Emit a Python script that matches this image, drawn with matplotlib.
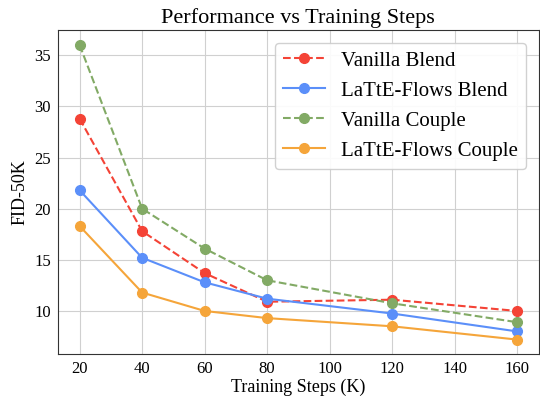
import matplotlib
matplotlib.use('Agg')
import matplotlib.pyplot as plt

steps = [20, 40, 60, 80, 120, 160]
vanilla_blend = [28.8, 17.8, 13.7, 10.9, 11.1, 10.0]
latte_blend = [21.8, 15.2, 12.8, 11.2, 9.75, 8.0]
vanilla_couple = [36.0, 20.0, 16.1, 13.0, 10.75, 8.9]
latte_couple = [18.3, 11.8, 10.0, 9.3, 8.5, 7.2]

plt.rcParams['font.family'] = ['Liberation Serif', 'DejaVu Serif']

fig = plt.figure(figsize=(5.4, 3.99), dpi=100)
ax = fig.add_axes([0.107, 0.112, 0.891, 0.812])

ax.plot(steps, vanilla_blend, '--o', color='#f44336', label='Vanilla Blend', markersize=7, linewidth=1.5)
ax.plot(steps, latte_blend, '-o', color='#5b8ff9', label='LaTtE-Flows Blend', markersize=7, linewidth=1.5)
ax.plot(steps, vanilla_couple, '--o', color='#82aa65', label='Vanilla Couple', markersize=7, linewidth=1.5)
ax.plot(steps, latte_couple, '-o', color='#f5a53a', label='LaTtE-Flows Couple', markersize=7, linewidth=1.5)

ax.set_title('Performance vs Training Steps', fontsize=16, pad=5)
ax.set_xlabel('Training Steps (K)', fontsize=13, labelpad=1)
ax.set_ylabel('FID-50K', fontsize=13, labelpad=4)
ax.tick_params(labelsize=12, length=0, pad=5)
for s in ax.spines.values():
    s.set_color('#333333')
ax.grid(True, color='#d0d0d0', linewidth=0.8)
ax.legend(fontsize=15, loc='upper right', framealpha=0.9, borderaxespad=0.6)

fig.savefig('out.png', dpi=100)
